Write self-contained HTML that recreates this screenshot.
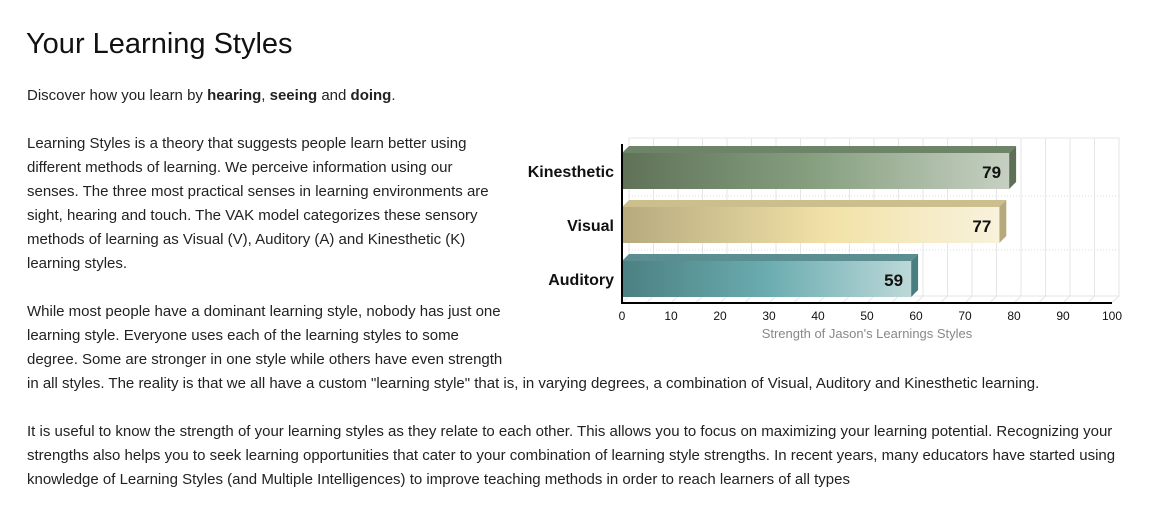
<!DOCTYPE html>
<html><head><meta charset="utf-8"><style>
body{margin:0;width:1151px;height:513px;background:#fff;font-family:"Liberation Sans",sans-serif;color:#222;position:relative;overflow:hidden}
.l{position:absolute;left:27px;font-size:15px;white-space:nowrap;line-height:18px}
h1{position:absolute;left:26px;top:28px;margin:0;font-weight:normal;font-size:29px;color:#111}
</style></head><body>
<h1>Your Learning Styles</h1>
<div class="l" style="top:87px">Discover how you learn by <b>hearing</b>, <b>seeing</b> and <b>doing</b>.</div>
<div>
<div class="l" style="top:135px">Learning Styles is a theory that suggests people learn better using</div>
<div class="l" style="top:159px">different methods of learning. We perceive information using our</div>
<div class="l" style="top:183px">senses. The three most practical senses in learning environments are</div>
<div class="l" style="top:207px">sight, hearing and touch. The VAK model categorizes these sensory</div>
<div class="l" style="top:231px">methods of learning as Visual (V), Auditory (A) and Kinesthetic (K)</div>
<div class="l" style="top:255px">learning styles.</div>
</div>
<div>
<div class="l" style="top:303px">While most people have a dominant learning style, nobody has just one</div>
<div class="l" style="top:327px">learning style. Everyone uses each of the learning styles to some</div>
<div class="l" style="top:351px">degree. Some are stronger in one style while others have even strength</div>
<div class="l" style="top:375px">in all styles. The reality is that we all have a custom "learning style" that is, in varying degrees, a combination of Visual, Auditory and Kinesthetic learning.</div>
</div>
<div>
<div class="l" style="top:423px">It is useful to know the strength of your learning styles as they relate to each other. This allows you to focus on maximizing your learning potential. Recognizing your</div>
<div class="l" style="top:447px">strengths also helps you to seek learning opportunities that cater to your combination of learning style strengths. In recent years, many educators have started using</div>
<div class="l" style="top:471px">knowledge of Learning Styles (and Multiple Intelligences) to improve teaching methods in order to reach learners of all types</div>
</div>
<svg id="chart" width="1151" height="513" style="position:absolute;left:0;top:0" font-family="Liberation Sans, sans-serif">
<defs>
<linearGradient id="g0" x1="0" x2="1"><stop offset="0" stop-color="#5f7258"/><stop offset="0.5" stop-color="#87a080"/><stop offset="1" stop-color="#c6d0c2"/></linearGradient>
<linearGradient id="g1" x1="0" x2="1"><stop offset="0" stop-color="#b6aa7e"/><stop offset="0.55" stop-color="#f2e2a8"/><stop offset="1" stop-color="#f8f2dc"/></linearGradient>
<linearGradient id="g2" x1="0" x2="1"><stop offset="0" stop-color="#4c8082"/><stop offset="0.5" stop-color="#6aacb0"/><stop offset="1" stop-color="#bcd8d8"/></linearGradient>
</defs>
</svg>
<script>
const categories=["Kinesthetic","Visual","Auditory"];
const values=[79,77,59];
const ticks=[0,10,20,30,40,50,60,70,80,90,100];
const svg=document.getElementById('chart');
const NS='http://www.w3.org/2000/svg';
const x0=622,x1=1112,ptop=138,pbottom=303,dx=7,dy=7;
const xs=v=>x0+(x1-x0)*v/100;
const band=54;
const yc=i=>171+band*i;
function mk(t,a){const e=document.createElementNS(NS,t);for(const k in a)e.setAttribute(k,a[k]);svg.appendChild(e);return e;}
let bg=mk('rect',{x:x0+dx,y:ptop,width:x1-x0,height:pbottom-ptop-dy,fill:'none',stroke:'#e4e4e4'});


for(let v=0;v<=100;v+=5){
 let g=mk('line',{x1:xs(v)+dx,x2:xs(v)+dx,y1:ptop,y2:pbottom-dy,stroke:'#e6e6e6'});
 
 
 mk('line',{x1:xs(v),x2:xs(v)+dx,y1:pbottom,y2:pbottom-dy,stroke:'#e6e6e6'});
}
for(let i=1;i<categories.length;i++){
 mk('line',{x1:x0+dx,x2:x1+dx,y1:yc(i)-band/2-2,y2:yc(i)-band/2-2,stroke:'#ddd','stroke-dasharray':'1,2'});
}
categories.forEach((c,i)=>{
 const h=36,yf=yc(i)-h/2,xe=xs(values[i]);
 let top_=mk('polygon',{points:`${x0},${yf} ${x0+dx},${yf-dy} ${xe+dx},${yf-dy} ${xe},${yf}`,fill:['#6e8468','#ccbf8e','#5a8e90'][i]});
 
 
 let side=mk('polygon',{points:`${xe},${yf} ${xe+dx},${yf-dy} ${xe+dx},${yf+h-dy} ${xe},${yf+h}`,fill:['#5d7057','#b6a97c','#4a7d80'][i]});
 
 
 let r=mk('rect',{x:x0,y:yf,width:xe-x0,height:h,fill:`url(#g${i})`});
 
 
 let vt=mk('text',{x:xe-8,y:yc(i)+7,'text-anchor':'end','font-size':17,'font-weight':'bold',fill:'#111'});
 vt.textContent=values[i];
 
 
 let ct=mk('text',{x:614,y:yc(i)+6,'text-anchor':'end','font-size':16,'font-weight':'bold',fill:'#111'});
 ct.textContent=c;
 
 
});
let ax=mk('line',{x1:x0-1,x2:x1,y1:pbottom,y2:pbottom,stroke:'#000','stroke-width':2});


let ay=mk('line',{x1:x0,x2:x0,y1:ptop+6,y2:pbottom,stroke:'#000','stroke-width':2});


ticks.forEach(v=>{
 let t=mk('text',{x:xs(v),y:320,'text-anchor':'middle','font-size':12,fill:'#111'});
 t.textContent=v;
 
 
});
let xt=mk('text',{x:867,y:338,'text-anchor':'middle','font-size':13,fill:'#888'});
xt.textContent="Strength of Jason's Learnings Styles";


</script>
</body></html>
